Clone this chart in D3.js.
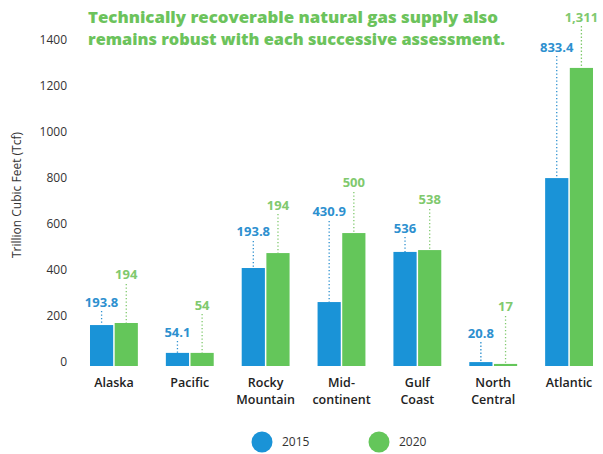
<!DOCTYPE html>
<html>
<head>
<meta charset="utf-8">
<script src="https://cdn.jsdelivr.net/npm/d3@7"></script>
<style>
  body { margin: 0; background: #fff; }
  text { font-family: "Open Sans", sans-serif; }
</style>
</head>
<body>
<svg width="603" height="454"></svg>
<script>
// regions along the x axis
const regions = ["Alaska", "Pacific", "Rocky\nMountain", "Mid-\ncontinent", "Gulf\nCoast", "North\nCentral", "Atlantic"];
const years = ["2015", "2020"];
// bar heights as drawn (Tcf)
const bars2015 = [178, 57, 426, 278, 496, 17, 817];
const bars2020 = [187, 57, 491, 578, 504, 9, 1296];
// printed annotations
const labels2015 = ["193.8", "54.1", "193.8", "430.9", "536", "20.8", "833.4"];
const labels2020 = ["194", "54", "194", "500", "538", "17", "1,311"];
// level (Tcf) where each annotation sits
const labelAt2015 = [278, 148, 583, 670, 600, 143, 1387];
const labelAt2020 = [396, 265, 700, 796, 722, 257, 1517];
const yTicks = [0, 200, 400, 600, 800, 1000, 1200, 1400];

const colors = { "2015": "#1a93d7", "2020": "#64c65a" };
const labelColors = { "2015": "#2d90cf", "2020": "#80c96e" };

let svg = d3.select("svg");

let x0 = d3.scaleBand().domain(regions).range([76, 607]).paddingInner(0.33).paddingOuter(0.165);
let x1 = d3.scaleBand().domain(years).range([0, x0.bandwidth()]).padding(0.06);
let y = d3.scaleLinear().domain([0, 1400]).range([366, 44]);

// title
let title = svg.append("g").attr("fill", "#6cc35c").style("font-weight", 800).style("font-size", "16px");
title.append("text").attr("x", 88).attr("y", 23).attr("textLength", 410).attr("lengthAdjust", "spacingAndGlyphs")
  .text("Technically recoverable natural gas supply also");
title.append("text").attr("x", 88).attr("y", 45).attr("textLength", 417).attr("lengthAdjust", "spacingAndGlyphs")
  .text("remains robust with each successive assessment.");

// y axis labels (no line)
let yAxis = svg.append("g")
  .attr("transform", "translate(67,0)")
  .call(d3.axisLeft(y).tickValues(yTicks).tickSize(0).tickPadding(0).tickFormat(d3.format("d")));
yAxis.select(".domain").remove();
yAxis.selectAll("text").attr("font-size", 12).attr("fill", "#333").attr("dy", "-0.05em")
  .style("font-family", "'Open Sans', sans-serif");

svg.append("text")
  .attr("transform", "translate(21,195) rotate(-90)")
  .attr("text-anchor", "middle")
  .attr("font-size", 12)
  .attr("fill", "#333")
  .text("Trillion Cubic Feet (Tcf)");

// build rows
let rows = [];
regions.forEach((r, i) => {
  rows.push({ region: r, year: "2015", v: bars2015[i], label: labels2015[i], at: labelAt2015[i] });
  rows.push({ region: r, year: "2020", v: bars2020[i], label: labels2020[i], at: labelAt2020[i] });
});
const bx = (d) => x0(d.region) + x1(d.year) + x1.bandwidth() / 2;

// dotted leader lines
svg.append("g").selectAll("line").data(rows).enter().append("line")
  .attr("x1", bx).attr("x2", bx)
  .attr("y1", (d) => y(d.at) + 9)
  .attr("y2", (d) => y(d.v))
  .attr("stroke", (d) => labelColors[d.year])
  .attr("stroke-width", 1.3)
  .attr("stroke-dasharray", "1.3,2.2");

// bars
svg.append("g").selectAll("rect").data(rows).enter().append("rect")
  .attr("x", (d) => x0(d.region) + x1(d.year))
  .attr("width", x1.bandwidth())
  .attr("y", (d) => y(d.v))
  .attr("height", (d) => y(0) - y(d.v))
  .attr("fill", (d) => colors[d.year]);

// value annotations
svg.append("g").selectAll("text").data(rows).enter().append("text")
  .attr("x", bx)
  .attr("y", (d) => y(d.at))
  .attr("dy", "0.35em")
  .attr("text-anchor", "middle")
  .attr("font-size", 13)
  .attr("font-weight", 700)
  .attr("fill", (d) => labelColors[d.year])
  .text((d) => d.label);

// category labels, one text per line
let catLines = [];
regions.forEach((r) => r.split("\n").forEach((t, i) => catLines.push({ region: r, text: t, line: i })));
svg.append("g").selectAll("text").data(catLines).enter().append("text")
  .attr("x", (d) => x0(d.region) + x0.bandwidth() / 2)
  .attr("y", (d) => 387 + d.line * 17)
  .attr("text-anchor", "middle")
  .attr("font-size", 12.5)
  .attr("font-weight", 600)
  .attr("fill", "#222")
  .text((d) => d.text);

// legend
let legend = svg.append("g").selectAll("g").data(years).enter().append("g")
  .attr("transform", (d, i) => "translate(" + (262 + i * 117) + ",442)");
legend.append("circle").attr("r", 10.5).attr("fill", (d) => colors[d]);
legend.append("text").attr("x", 20).attr("dy", "0.35em").attr("font-size", 12).attr("fill", "#333").text((d) => d);
</script>
</body>
</html>
